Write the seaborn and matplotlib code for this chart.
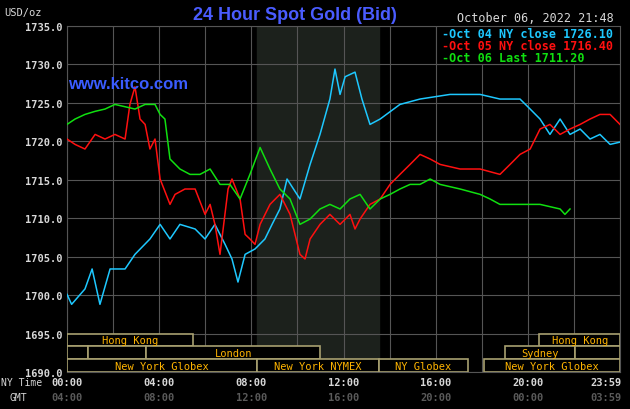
import matplotlib
matplotlib.use("Agg")
import matplotlib.pyplot as plt
import seaborn as sns
import pandas as pd
from matplotlib.patches import Rectangle

# Oct 04 (blue)
oct04_h = [0, 0.2, 0.78, 1.09, 1.43, 1.87, 2.52, 2.95, 3.6, 4.04, 4.47, 4.9, 5.56, 5.99, 6.42,
           6.86, 7.16, 7.42, 7.73, 8.16, 8.59, 8.9, 9.24, 9.55, 10.11, 10.55, 10.98, 11.41, 11.63,
           11.85, 12.07, 12.5, 12.8, 13.15, 13.59, 14.45, 15.32, 16.62, 17.93, 18.79, 19.66, 20.1,
           20.53, 20.96, 21.4, 21.83, 22.27, 22.7, 23.13, 23.57, 24]
oct04_p = [1700.1, 1698.8, 1700.8, 1703.4, 1698.8, 1703.4, 1703.4, 1705.3, 1707.3, 1709.2, 1707.3,
           1709.2, 1708.6, 1707.3, 1709.2, 1706.6, 1704.7, 1701.7, 1705.3, 1706.0, 1707.3, 1709.2,
           1711.2, 1715.1, 1712.5, 1717.0, 1720.9, 1725.5, 1729.4, 1726.1, 1728.4, 1729.0, 1725.5,
           1722.2, 1722.9, 1724.8, 1725.5, 1726.1, 1726.1, 1725.5, 1725.5, 1724.2, 1722.9, 1720.9,
           1722.9, 1720.9, 1721.6, 1720.3, 1720.9, 1719.6, 1719.9]

# Oct 05 (red)
oct05_h = [0, 0.35, 0.78, 1.22, 1.65, 2.08, 2.52, 2.73, 2.95, 3.17, 3.39, 3.6, 3.82, 4.04, 4.47,
           4.69, 5.12, 5.56, 5.99, 6.21, 6.42, 6.64, 6.99, 7.16, 7.51, 7.73, 7.94, 8.16, 8.38, 8.81,
           9.24, 9.68, 10.11, 10.33, 10.55, 10.98, 11.41, 11.85, 12.28, 12.5, 12.72, 13.15, 13.59,
           14.02, 14.45, 14.89, 15.32, 15.76, 16.19, 17.06, 17.93, 18.79, 19.23, 19.66, 20.1, 20.53,
           20.96, 21.4, 21.83, 22.27, 22.7, 23.13, 23.57, 24]
oct05_p = [1720.3, 1719.6, 1719.0, 1720.9, 1720.3, 1720.9, 1720.3, 1724.8, 1727.1, 1722.9, 1722.2,
           1719.0, 1720.3, 1715.1, 1711.8, 1713.1, 1713.8, 1713.8, 1710.5, 1711.8, 1709.2, 1705.3,
           1713.8, 1715.1, 1712.5, 1707.9, 1707.3, 1706.6, 1709.2, 1711.8, 1713.1, 1710.5, 1705.3,
           1704.7, 1707.3, 1709.2, 1710.5, 1709.2, 1710.5, 1708.6, 1709.9, 1711.8, 1712.5, 1714.4,
           1715.7, 1717.0, 1718.3, 1717.7, 1717.0, 1716.4, 1716.4, 1715.7, 1717.0, 1718.3, 1719.0,
           1721.6, 1722.2, 1720.9, 1721.6, 1722.2, 1722.9, 1723.5, 1723.5, 1722.2]

# Oct 06 (green)
oct06_h = [0, 0.35, 0.78, 1.22, 1.65, 2.08, 2.52, 2.95, 3.39, 3.82, 4.04, 4.25, 4.47, 4.9, 5.34,
           5.77, 6.21, 6.64, 7.07, 7.51, 7.94, 8.38, 8.81, 9.24, 9.68, 10.11, 10.55, 10.98, 11.41,
           11.85, 12.28, 12.72, 13.15, 13.59, 14.02, 14.45, 14.89, 15.32, 15.76, 16.19, 17.06,
           17.93, 18.36, 18.79, 19.66, 20.53, 21.4, 21.61, 21.83]
oct06_p = [1722.2, 1722.9, 1723.5, 1723.9, 1724.2, 1724.8, 1724.5, 1724.2, 1724.8, 1724.8, 1723.5,
           1722.9, 1717.7, 1716.4, 1715.7, 1715.7, 1716.4, 1714.4, 1714.4, 1712.5, 1715.7, 1719.2,
           1716.4, 1713.8, 1712.5, 1709.2, 1709.9, 1711.2, 1711.8, 1711.2, 1712.5, 1713.1, 1711.2,
           1712.5, 1713.1, 1713.8, 1714.4, 1714.4, 1715.1, 1714.4, 1713.8, 1713.1, 1712.5, 1711.8,
           1711.8, 1711.8, 1711.2, 1710.5, 1711.2]

legend_labels = ["Oct 04 NY close 1726.10", "Oct 05 NY close 1716.40", "Oct 06 Last 1711.20"]
colors = ["#1ec8ff", "#ff1010", "#10e010"]

tick_hours = [0, 4, 8, 12, 16, 20, 23.98]
ny_labels = ["00:00", "04:00", "08:00", "12:00", "16:00", "20:00", "23:59"]
gmt_labels = ["04:00", "08:00", "12:00", "16:00", "20:00", "00:00", "03:59"]

# sessions: (row, start hour, end hour, label)
sessions = [
    (0, 0, 5.47, "Hong Kong"), (0, 20.5, 24, "Hong Kong"),
    (1, 0, 0.9, ""), (1, 0.9, 3.45, ""), (1, 3.45, 10.98, "London"),
    (1, 19.0, 22.05, "Sydney"), (1, 22.05, 24, ""),
    (2, 0, 8.25, "New York Globex"), (2, 8.25, 13.53, "New York NYMEX"),
    (2, 13.53, 17.4, "NY Globex"), (2, 18.1, 24, "New York Globex"),
]

mono = "DejaVu Sans Mono"
fig = plt.figure(figsize=(6.3, 4.1), dpi=100, facecolor="black")
ax = fig.add_axes([67 / 630, 1 - 373 / 410, 553 / 630, 346 / 410])
ax.set_facecolor("black")

ax.axvspan(8.25, 13.53, color="#1c211c", zorder=0)

frames = []
for h, p, lab in zip([oct04_h, oct05_h, oct06_h], [oct04_p, oct05_p, oct06_p], legend_labels):
    frames.append(pd.DataFrame({"hour": h, "price": p, "series": lab}))
df = pd.concat(frames)
sns.lineplot(data=df, x="hour", y="price", hue="series", palette=colors, lw=1.1,
             legend=False, ax=ax, zorder=3)

ax.set_xlim(0, 24)
ax.set_ylim(1690, 1735)
ax.set_xticks(range(0, 25, 2))
ax.set_yticks(range(1690, 1736, 5))
ax.set_xticklabels([])
ax.set_yticklabels([f"{v}.0" for v in range(1690, 1736, 5)], family=mono, color="#d8d8d8",
                   fontsize=7.5, fontweight="bold")
ax.tick_params(length=0, pad=3)
ax.grid(True, color="#555555", lw=0.8, zorder=1)
ax.set_xlabel("")
ax.set_ylabel("")
for s in ax.spines.values():
    s.set_color("#555555")

row_h = 5 / 3
for row, a, b, lab in sessions:
    y0 = 1695 - (row + 1) * row_h
    ax.add_patch(Rectangle((a, y0), b - a, row_h, facecolor="black", edgecolor="#a8a070",
                           lw=1.2, zorder=4))
    if lab:
        ax.text((a + b) / 2, y0 + row_h / 2, lab, ha="center", va="center", color="#ffb400",
                family=mono, fontsize=7.5, zorder=5)

for hr, ny, gmt in zip(tick_hours, ny_labels, gmt_labels):
    ha = "right" if hr > 23 else "center"
    xx = 24.05 if hr > 23 else hr
    ax.text(xx, -0.028, ny, transform=ax.get_xaxis_transform(), ha=ha, va="center",
            color="#d8d8d8", family=mono, fontsize=7.5, fontweight="bold")
    ax.text(xx, -0.073, gmt, transform=ax.get_xaxis_transform(), ha=ha, va="center",
            color="#5a5a5a", family=mono, fontsize=7.5, fontweight="bold")
fig.text(1 / 630, 1 - 383 / 410, "NY Time", color="#d8d8d8", family=mono, fontsize=7, va="center")
fig.text(10 / 630, 1 - 398 / 410, "GMT", color="#d8d8d8", family=mono, fontsize=7, va="center")

fig.text(4 / 630, 1 - 13 / 410, "USD/oz", color="#d8d8d8", family=mono, fontsize=7.5, va="center")
fig.text(295 / 630, 1 - 16 / 410, "24 Hour Spot Gold (Bid)", color="#4a5cff", fontsize=13,
         ha="center", va="center", fontweight="bold", family="Liberation Sans")
fig.text(614 / 630, 1 - 19 / 410, "October 06, 2022 21:48", color="#d8d8d8", family=mono,
         fontsize=8.5, ha="right", va="center")
ax.text(0.05, 1727.5, "www.kitco.com", color="#3a5cff", fontsize=12, fontweight="bold",
        va="center", family="Liberation Sans", zorder=5)

ax.add_patch(Rectangle((16.0, 1730), 8.0, 5.0, facecolor="black", edgecolor="#555555",
                       lw=0.8, zorder=4))
for i, (lab, c) in enumerate(zip(legend_labels, colors)):
    fig.text(442 / 630, 1 - (34 + i * 12.5) / 410, "-" + lab, color=c, family=mono,
             fontsize=8.5, fontweight="bold", va="center", zorder=6)

fig.savefig("out.png", dpi=100, facecolor="black")
